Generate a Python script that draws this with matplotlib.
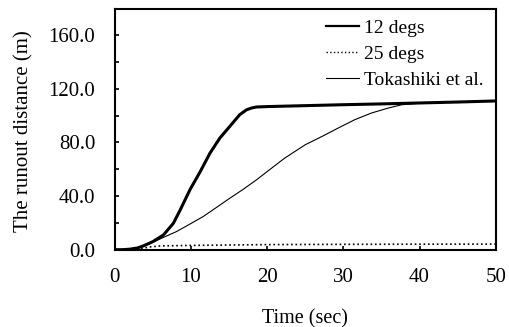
import matplotlib
matplotlib.use("Agg")
import matplotlib.pyplot as plt
from matplotlib.ticker import MultipleLocator, FormatStrFormatter

# ---- data ----
t_12 = [0, 1, 2, 3, 3.75, 5, 6.4, 7.7, 8.6, 9.9, 11.2, 12.5, 13.8, 15.1, 16.4,
        17.3, 18.0, 18.6, 20, 25, 30, 35, 40, 45, 50]
v_12 = [0, 0, 0.4, 1.3, 2.8, 6, 11, 19.7, 29.7, 45, 58, 72, 83.3, 92, 100.7,
        104.4, 105.8, 106.5, 106.8, 107.5, 108.2, 108.8, 109.5, 110.2, 111]

t_25 = [0, 2, 3, 3.5, 4.5, 6, 8, 10, 15, 20, 30, 40, 50]
v_25 = [0, 0, 0.3, 0.8, 2, 2.8, 3.0, 3.2, 3.5, 3.8, 4.0, 4.1, 4.2]

t_tok = [0, 2, 3, 4, 5, 6.8, 8.1, 9.9, 11.6, 13.4, 15.1, 16.9, 18.6, 20.3,
         22.3, 25, 27.2, 29.3, 31.5, 33.7, 35.9, 37.7, 40, 45, 50]
v_tok = [0, 0.3, 1.2, 3, 5.5, 10.2, 13.5, 19.2, 24.7, 31.7, 38.4, 45.2, 52.1,
         59.6, 68.3, 78.3, 84.5, 90.7, 97, 102, 105.7, 108.2, 109.3, 110.2, 111]

labels = ["12 degs", "25 degs", "Tokashiki et al."]

plt.rcParams['font.family'] = ['Liberation Serif', 'DejaVu Serif']

fig = plt.figure(figsize=(5.09, 3.27), dpi=100)
ax = fig.add_axes([0.2253, 0.2364, 0.9739 - 0.2253, 0.974 - 0.2364])

ax.plot(t_12, v_12, color='black', lw=2.2, label=labels[0])
ax.plot(t_25, v_25, color='black', lw=1.2, ls=':', label=labels[1])
ax.plot(t_tok, v_tok, color='black', lw=0.8, label=labels[2])

ax.set_xlim(0, 50)
ax.set_ylim(0, 180)
ax.xaxis.set_major_locator(MultipleLocator(10))
ax.yaxis.set_major_locator(MultipleLocator(40))
ax.yaxis.set_minor_locator(MultipleLocator(20))
ax.yaxis.set_major_formatter(FormatStrFormatter('%.1f'))

for s in ax.spines.values():
    s.set_linewidth(1.5)

ax.tick_params(axis='both', which='both', direction='in', length=3, width=1.2,
               labelsize=15)
ax.tick_params(axis='x', pad=13)
ax.tick_params(axis='y', pad=14)

ax.set_xlabel("Time (sec)", fontsize=14.5, labelpad=16)
ax.set_ylabel("The runout distance (m)", fontsize=15)
ax.yaxis.set_label_coords(-0.212, 0.49)

leg = ax.legend(loc='upper left', bbox_to_anchor=(0.5546, 0.955), frameon=False,
                fontsize=14, handlelength=1.7, handletextpad=0.27,
                labelspacing=0.42, borderpad=0, borderaxespad=0)
leg.legend_handles[0].set_linewidth(1.6)
leg.legend_handles[1].set_linewidth(1.0)

fig.savefig("out.png", dpi=100)
